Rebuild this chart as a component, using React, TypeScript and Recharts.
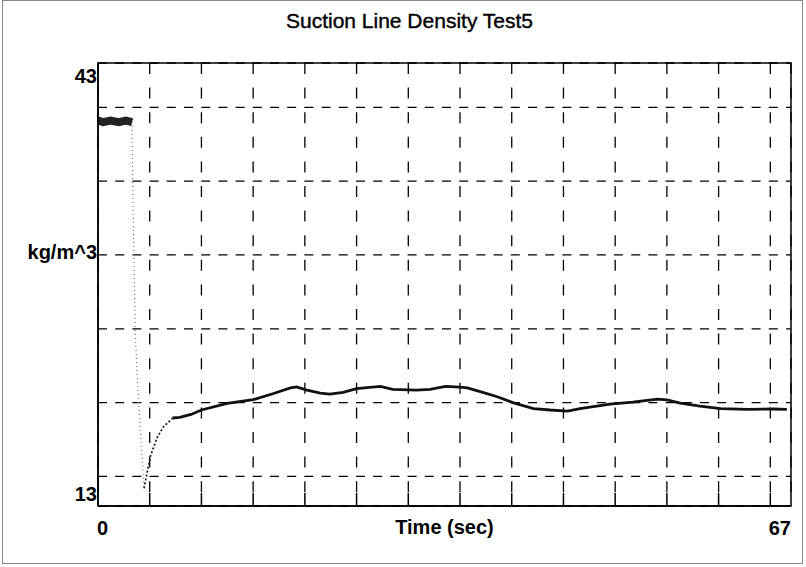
import React from 'react';
import { LineChart, Line, XAxis, YAxis, CartesianGrid, ReferenceArea } from 'recharts';

// time (s) / density (kg/m^3) samples
const plateauTime = [0, 0.5, 1.2, 2.0, 2.7, 3.3];
const plateauDensity = [39.1, 39.0, 39.1, 39.0, 39.1, 39.0];

const dropTime = [3.3, 3.35, 3.6, 3.8, 4.15, 4.45];
const dropDensity = [39.0, 35.1, 24.7, 21.7, 17.5, 14.2];

const riseTime = [4.45, 4.9, 5.1, 5.7, 6.3, 7.0, 7.2];
const riseDensity = [14.2, 15.8, 16.45, 17.6, 18.35, 18.8, 18.96];

const mainTime = [
  7.2, 7.9, 9.0, 10.0, 12.5, 15.0, 16.9, 18.6, 19.2, 20.2, 21.5, 22.4, 23.7, 25.0,
  27.3, 28.5, 30.8, 32.1, 33.6, 35.0, 35.7, 37.2, 38.6, 40.1, 42.1, 43.7, 45.4,
  46.6, 49.5, 51.7, 54.1, 55.0, 56.3, 58.2, 60.2, 62.8, 65.3, 66.6,
];
const mainDensity = [
  18.96, 19.0, 19.2, 19.5, 19.95, 20.2, 20.6, 21.0, 21.06, 20.85, 20.65, 20.58, 20.7, 20.95,
  21.1, 20.9, 20.85, 20.9, 21.1, 21.05, 21.0, 20.7, 20.4, 20.0, 19.6, 19.5, 19.43,
  19.6, 19.9, 20.04, 20.24, 20.18, 19.97, 19.77, 19.6, 19.55, 19.57, 19.55,
];

const xTicks = [0, 5, 10, 15, 20, 25, 30, 35, 40, 45, 50, 55, 60, 65, 67];
const yTicks = [13, 15, 20, 25, 30, 35, 40, 43];
const yLabels: Record<number, string> = { 43: '43', 30: 'kg/m^3', 13: '13' };
const xLabels: Record<number, string> = { 0: '0', 67: '67' };

const toPoints = (ts: number[], vs: number[]) => ts.map((t, i) => ({ t, v: vs[i] }));

const FONT = '"Liberation Sans", Arial, sans-serif';

const XTick = (props: any) => {
  const { x, y, payload } = props;
  const label = xLabels[payload.value];
  if (label !== undefined) {
    const first = payload.value === 0;
    return (
      <text x={first ? x - 1 : x} y={y + 29} textAnchor={first ? 'start' : 'end'}
        fontFamily={FONT} fontWeight="bold" fontSize={20} fill="#000">{label}</text>
    );
  }
  // short inward tick on the bottom edge
  return <line x1={x} x2={x} y1={y} y2={y - 13} stroke="#000" strokeWidth={1.5} />;
};

const YTick = (props: any) => {
  const { x, y, payload } = props;
  const label = yLabels[payload.value];
  if (label === undefined) return <g />;
  const dy = payload.value === 43 ? 20 : payload.value === 13 ? -5 : 4;
  return (
    <text x={x - 1} y={y + dy} textAnchor="end" fontFamily={FONT} fontWeight="bold"
      fontSize={20} fill="#000">{label}</text>
  );
};

export default function App() {
  return (
    <div style={{ position: 'absolute', left: 0, top: 0, width: 806, height: 567, background: '#fff' }}>
      <div style={{ position: 'absolute', left: 2, top: 0, width: 801, height: 564, border: '1px solid #888', boxSizing: 'border-box' }} />
      <div style={{
        position: 'absolute', left: 13, top: 10, width: 793, textAlign: 'center',
        fontFamily: FONT, fontSize: 21, lineHeight: '21px', color: '#000',
        WebkitTextStroke: '0.4px #000',
      }}>
        Suction Line Density Test5
      </div>
      <LineChart width={806} height={567} margin={{ top: 63, right: 15, bottom: 31, left: 38 }}
        style={{ position: 'absolute', left: 0, top: 0 }}>
        <CartesianGrid vertical={false} stroke="#000" strokeWidth={1.3} strokeDasharray="9 8.2" />
        <CartesianGrid horizontal={false} stroke="#000" strokeWidth={1.3} strokeDasharray="11 13.6" />
        <XAxis type="number" dataKey="t" domain={[0, 67]} ticks={xTicks} interval={0}
          allowDataOverflow height={30} tickSize={0} tickMargin={0} tickLine={false}
          axisLine={{ stroke: '#000', strokeWidth: 1.5 }} tick={<XTick />}
          label={{ value: 'Time (sec)', position: 'insideTop', offset: 14, fontFamily: FONT, fontWeight: 'bold', fontSize: 20, fill: '#000' }} />
        <YAxis type="number" dataKey="v" domain={[13, 43]} ticks={yTicks} interval={0}
          allowDataOverflow width={60} tickSize={0} tickMargin={0} tickLine={false}
          axisLine={{ stroke: '#000', strokeWidth: 1.5 }} tick={<YTick />} />
        <ReferenceArea x1={0} x2={67} y1={13} y2={43} fill="none" stroke="#000" strokeWidth={1.5} />
        <Line data={toPoints(plateauTime, plateauDensity)} dataKey="v" type="linear" dot={false}
          stroke="#222" strokeWidth={8} strokeLinecap="butt" isAnimationActive={false} />
        <Line data={toPoints(dropTime, dropDensity)} dataKey="v" type="linear" dot={false}
          stroke="#777" strokeWidth={1.2} strokeDasharray="1 3" isAnimationActive={false} />
        <Line data={toPoints(riseTime, riseDensity)} dataKey="v" type="linear" dot={false}
          stroke="#222" strokeWidth={1.8} strokeDasharray="2 2" isAnimationActive={false} />
        <Line data={toPoints(mainTime, mainDensity)} dataKey="v" type="linear" dot={false}
          stroke="#111" strokeWidth={2.8} isAnimationActive={false} />
      </LineChart>
    </div>
  );
}
